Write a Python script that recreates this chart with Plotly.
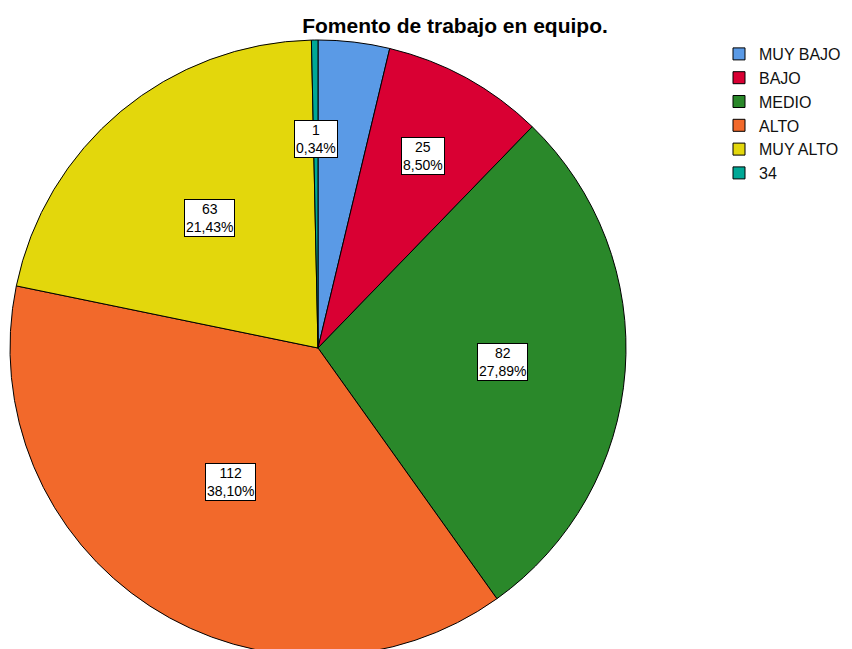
import math
import plotly.graph_objects as go

# data
categories = ["MUY BAJO", "BAJO", "MEDIO", "ALTO", "MUY ALTO", "34"]
counts = [11, 25, 82, 112, 63, 1]
pct_labels = ["", "8,50%", "27,89%", "38,10%", "21,43%", "0,34%"]
show_label = [False, True, True, True, True, True]

colors = ["#5a9ae6", "#d90033", "#2a882a", "#f2692b", "#e3d70c", "#00a896"]

OFF = 8                      # page body margin in the browser
W, H = 844, 652
cx, cy, R = 318 - OFF, 348 - OFF, 308          # pie centre/radius in figure px
label_r = [0.6, 0.71, 0.6, 0.52, 0.55, 0.68]

fig = go.Figure()
fig.add_trace(go.Pie(
    labels=categories, values=counts,
    sort=False, direction="clockwise", rotation=0,
    marker=dict(colors=colors, line=dict(color="black", width=1)),
    textinfo="none", hoverinfo="label+value+percent",
    domain=dict(x=[(cx - R) / W, (cx + R) / W],
                y=[1 - (cy + R) / H, 1 - (cy - R) / H]),
))

# boxed labels at the slice mid-angles
total = sum(counts)
cum = 0
for i, v in enumerate(counts):
    mid = (cum + v / 2) / total * 2 * math.pi
    cum += v
    if not show_label[i]:
        continue
    px = cx + label_r[i] * R * math.sin(mid)
    py = cy - label_r[i] * R * math.cos(mid)
    fig.add_annotation(
        x=px / W, y=1 - py / H, xref="paper", yref="paper",
        xanchor="center", yanchor="middle",
        text=f"{v}<br>{pct_labels[i]}", showarrow=False,
        font=dict(family="Liberation Sans", size=14, color="black"),
        bgcolor="white", bordercolor="black", borderwidth=1, borderpad=1,
    )

fig.update_layout(
    width=W, height=H,
    margin=dict(l=0, r=0, t=0, b=0),
    paper_bgcolor="white",
    title=dict(text="<b>Fomento de trabajo en equipo.</b>",
               x=(455 - OFF) / W, xanchor="center",
               y=1 - (26 - OFF) / H, yanchor="middle",
               font=dict(family="Liberation Sans", size=21, color="black")),
    legend=dict(x=(719 - OFF) / W, xanchor="left",
                y=1 - (37 - OFF) / H, yanchor="top",
                font=dict(family="Liberation Sans", size=16, color="#111"),
                traceorder="normal", itemclick=False),
)

fig.write_html("out.html")
